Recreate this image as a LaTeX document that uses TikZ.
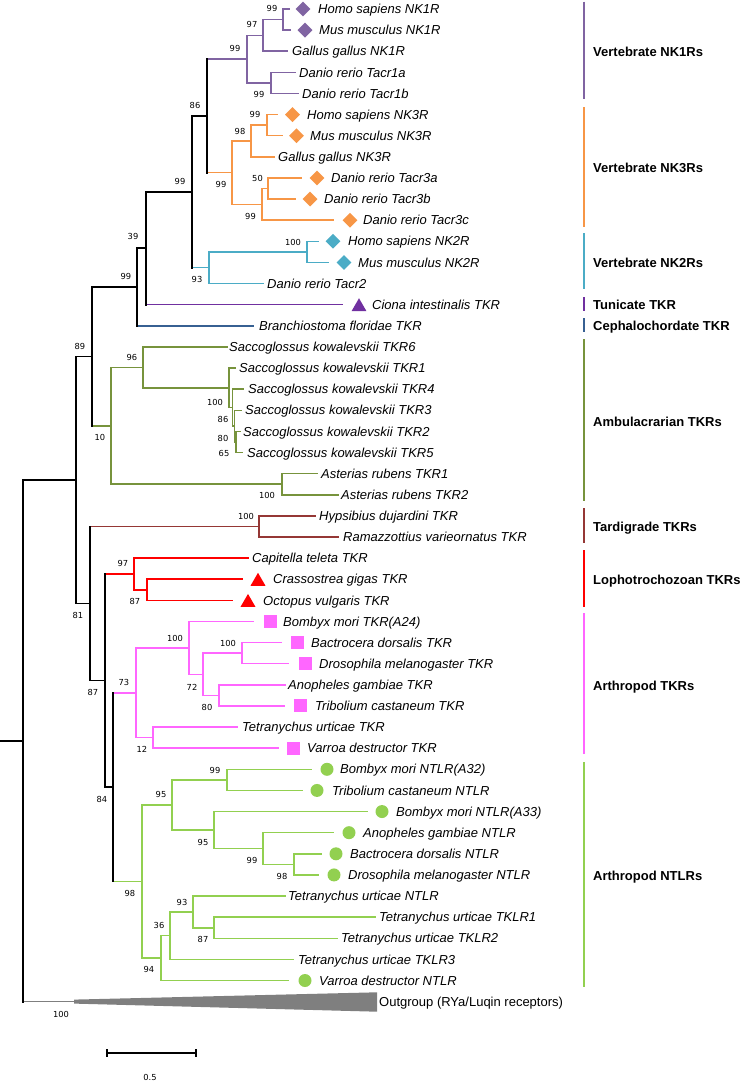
\documentclass[tikz,border=0pt]{standalone}
\usepackage{fontspec}
\setmainfont{Liberation Sans}
\newfontfamily\bsfont{DejaVu Sans}
\usetikzlibrary{shapes.geometric}
\definecolor{cNKa}{HTML}{8064A2}
\definecolor{cNKc}{HTML}{F79646}
\definecolor{cNKb}{HTML}{4BACC6}
\definecolor{cCio}{HTML}{7030A0}
\definecolor{cBra}{HTML}{376092}
\definecolor{cAmb}{HTML}{77933C}
\definecolor{cTar}{HTML}{953735}
\definecolor{cLop}{HTML}{FF0000}
\definecolor{cArt}{HTML}{FF66FF}
\definecolor{cNtl}{HTML}{92D050}
\definecolor{cOut}{HTML}{7F7F7F}
\tikzset{
  tl/.style={line width=1.5pt, line cap=rect, line join=miter},
  tlb/.style={line width=1.8pt, line cap=rect, line join=miter, black},
  sp/.style={font=\fontsize{13}{15}\selectfont\itshape, inner sep=0pt, text height=9.3pt, text depth=0pt, anchor=west},
  cl/.style={font=\fontsize{13}{15}\selectfont\bfseries, inner sep=0pt, text height=9.3pt, text depth=0pt, anchor=west},
  bs/.style={font=\bsfont\fontsize{8.3}{10}\selectfont, inner sep=0pt, text height=6pt, text depth=0pt, anchor=center},
  dia/.style={diamond, fill=#1, inner sep=0pt, minimum width=15pt, minimum height=15pt},
  cir/.style={circle, fill=#1, inner sep=0pt, minimum size=13pt},
  sqr/.style={rectangle, fill=#1, inner sep=0pt, minimum size=13pt},
  tri/.style={regular polygon, regular polygon sides=3, fill=#1, inner sep=0pt, minimum size=17.3pt, yshift=-2.2pt},
  cbar/.style={line width=1.5pt},
}
\newcommand\leaf[5]{\coordinate (#1) at (#3,{9+21.12*#2}); \node[sp] (#1-t) at (#4,{9+21.12*#2}) {#5};}
\begin{document}
\begin{tikzpicture}[x=1pt,y=-1pt]
\useasboundingbox (0,0) rectangle (742,1081);
% ---------- leaves ----------
\leaf{t0}{0}{289}{318}{Homo sapiens NK1R}
\leaf{t1}{1}{290}{319}{Mus musculus NK1R}
\leaf{t2}{2}{287}{292}{Gallus gallus NK1R}
\leaf{t3}{3}{295}{299}{Danio rerio Tacr1a}
\leaf{t4}{4}{298}{302}{Danio rerio Tacr1b}
\leaf{t5}{5}{277}{307}{Homo sapiens NK3R}
\leaf{t6}{6}{282}{310}{Mus musculus NK3R}
\leaf{t7}{7}{274}{278}{Gallus gallus NK3R}
\leaf{t8}{8}{301}{331}{Danio rerio Tacr3a}
\leaf{t9}{9}{295}{324}{Danio rerio Tacr3b}
\leaf{t10}{10}{333}{363}{Danio rerio Tacr3c}
\leaf{t11}{11}{318}{348}{Homo sapiens NK2R}
\leaf{t12}{12}{328}{358}{Mus musculus NK2R}
\leaf{t13}{13}{263}{267}{Danio rerio Tacr2}
\leaf{t14}{14}{342}{372}{Ciona intestinalis TKR}
\leaf{t15}{15}{253}{259}{Branchiostoma floridae TKR}
\leaf{t16}{16}{227}{229}{Saccoglossus kowalevskii TKR6}
\leaf{t17}{17}{235}{239}{Saccoglossus kowalevskii TKR1}
\leaf{t18}{18}{243}{248}{Saccoglossus kowalevskii TKR4}
\leaf{t19}{19}{241}{245}{Saccoglossus kowalevskii TKR3}
\leaf{t20}{20}{240}{243}{Saccoglossus kowalevskii TKR2}
\leaf{t21}{21}{242}{247}{Saccoglossus kowalevskii TKR5}
\leaf{t22}{22}{317}{321}{Asterias rubens TKR1}
\leaf{t23}{23}{338}{341}{Asterias rubens TKR2}
\leaf{t24}{24}{315}{319}{Hypsibius dujardini TKR}
\leaf{t25}{25}{338}{343}{Ramazzottius varieornatus TKR}
\leaf{t26}{26}{248}{252}{Capitella teleta TKR}
\leaf{t27}{27}{242}{273}{Crassostrea gigas TKR}
\leaf{t28}{28}{232}{263}{Octopus vulgaris TKR}
\leaf{t29}{29}{253}{283}{Bombyx mori TKR(A24)}
\leaf{t30}{30}{281}{311}{Bactrocera dorsalis TKR}
\leaf{t31}{31}{288}{319}{Drosophila melanogaster TKR}
\leaf{t32}{32}{285}{288}{Anopheles gambiae TKR}
\leaf{t33}{33}{284}{315}{Tribolium castaneum TKR}
\leaf{t34}{34}{237}{242}{Tetranychus urticae TKR}
\leaf{t35}{35}{278}{307}{Varroa destructor TKR}
\leaf{t36}{36}{311}{340}{Bombyx mori NTLR(A32)}
\leaf{t37}{37}{302}{332}{Tribolium castaneum NTLR}
\leaf{t38}{38}{367}{396}{Bombyx mori NTLR(A33)}
\leaf{t39}{39}{333}{363}{Anopheles gambiae NTLR}
\leaf{t40}{40}{321}{350}{Bactrocera dorsalis NTLR}
\leaf{t41}{41}{318}{348}{Drosophila melanogaster NTLR}
\leaf{t42}{42}{285}{288}{Tetranychus urticae NTLR}
\leaf{t43}{43}{375}{379}{Tetranychus urticae TKLR1}
\leaf{t44}{44}{337}{341}{Tetranychus urticae TKLR2}
\leaf{t45}{45}{293}{298}{Tetranychus urticae TKLR3}
\leaf{t46}{46}{288}{319}{Varroa destructor NTLR}
% ---------- markers ----------
\node[dia=cNKa] (m0) at (303,{9+21.12*0}) {};
\node[dia=cNKa] (m1) at (305,{9+21.12*1}) {};
\node[dia=cNKc] (m5) at (292.5,{9+21.12*5}) {};
\node[dia=cNKc] (m6) at (296.5,{9+21.12*6}) {};
\node[dia=cNKc] (m8) at (317,{9+21.12*8}) {};
\node[dia=cNKc] (m9) at (310,{9+21.12*9}) {};
\node[dia=cNKc] (m10) at (350,{9+21.12*10}) {};
\node[dia=cNKb] (m11) at (333,{9+21.12*11}) {};
\node[dia=cNKb] (m12) at (344,{9+21.12*12}) {};
\node[tri=cCio] (m14) at (359,{9+21.12*14}) {};
\node[tri=cLop] (m27) at (258,{9+21.12*27}) {};
\node[tri=cLop] (m28) at (248,{9+21.12*28}) {};
\node[sqr=cArt] (m29) at (270,{9+21.12*29}) {};
\node[sqr=cArt] (m30) at (297,{9+21.12*30}) {};
\node[sqr=cArt] (m31) at (305,{9+21.12*31}) {};
\node[sqr=cArt] (m33) at (300,{9+21.12*33}) {};
\node[sqr=cArt] (m35) at (293,{9+21.12*35}) {};
\node[cir=cNtl] (m36) at (327,{9+21.12*36}) {};
\node[cir=cNtl] (m37) at (317,{9+21.12*37}) {};
\node[cir=cNtl] (m38) at (382,{9+21.12*38}) {};
\node[cir=cNtl] (m39) at (349,{9+21.12*39}) {};
\node[cir=cNtl] (m40) at (336,{9+21.12*40}) {};
\node[cir=cNtl] (m41) at (334,{9+21.12*41}) {};
\node[cir=cNtl] (m46) at (305,{9+21.12*46}) {};
% ---------- internal nodes ----------
\coordinate (nA) at (283,19.55);
\coordinate (n97) at (263,35.4);
\coordinate (nT1) at (271,82.95);
\coordinate (nNK1) at (247,59.2);
\coordinate (nB) at (267,125.15);
\coordinate (n98) at (251,141.0);
\coordinate (n50) at (268,188.55);
\coordinate (nT3) at (262,204.4);
\coordinate (nNK3) at (232,172.7);
\coordinate (n86) at (207,115.95);
\coordinate (nC) at (307,251.85);
\coordinate (nNK2) at (209,267.7);
\coordinate (n99v) at (192,191.8);
\coordinate (n39) at (146,248.25);
\coordinate (n99c) at (137,287.0);
\coordinate (n65) at (236,441.95);
\coordinate (n80s) at (234.5,426.1);
\coordinate (n86s) at (232.5,407.65);
\coordinate (n100s) at (229,387.8);
\coordinate (n96) at (143,367.35);
\coordinate (nAst) at (282,484.2);
\coordinate (n10) at (111,425.8);
\coordinate (n89) at (92,356.4);
\coordinate (nTard) at (259,526.45);
\coordinate (n87L) at (147,589.8);
\coordinate (n97L) at (134,573.95);
\coordinate (nBD) at (242,653.15);
\coordinate (nAT) at (219,695.4);
\coordinate (n72) at (203,674.3);
\coordinate (n100a) at (189,647.9);
\coordinate (n12) at (153,737.65);
\coordinate (n73) at (136,692.8);
\coordinate (n99n) at (227,779.85);
\coordinate (n98n) at (294,864.35);
\coordinate (n99b) at (263,848.5);
\coordinate (n95b) at (214,830.05);
\coordinate (n95) at (172,804.95);
\coordinate (n87n) at (214,927.75);
\coordinate (n93) at (193,911.9);
\coordinate (n36) at (170,935.65);
\coordinate (n94) at (161,958.1);
\coordinate (n98a) at (142,881.5);
\coordinate (nZ) at (113,787.15);
\coordinate (nY) at (105,680.55);
\coordinate (nX) at (90,603.5);
\coordinate (n81) at (76,479.95);
\coordinate (root) at (23,740.8);
\coordinate (rs) at (0,740.8);
\coordinate (og) at (74,1001.6);
% ---------- coloured clades ----------
\draw[tl,cNKa] (nA) |- (t0) (nA) |- (t1) (n97) |- (nA) (n97) |- (t2)
  (nT1) |- (t3) (nT1) |- (t4) (nNK1) |- (n97) (nNK1) |- (nT1);
\draw[tl,cNKc] (nB) |- (t5) (nB) |- (t6) (n98) |- (nB) (n98) |- (t7)
  (n50) |- (t8) (n50) |- (t9) (nT3) |- (n50) (nT3) |- (t10)
  (nNK3) |- (n98) (nNK3) |- (nT3);
\draw[tl,cNKb] (nC) |- (t11) (nC) |- (t12) (nNK2) |- (nC) (nNK2) |- (t13);
\draw[tl,cAmb] (n65) |- (t20) (n65) |- (t21) (n80s) |- (t19) (n80s) |- (n65)
  (n86s) |- (t18) (n86s) |- (n80s) (n100s) |- (t17) (n100s) |- (n86s)
  (n96) |- (t16) (n96) |- (n100s) (nAst) |- (t22) (nAst) |- (t23)
  (n10) |- (n96) (n10) |- (nAst);
\draw[tl,cTar] (nTard) |- (t24) (nTard) |- (t25);
\draw[tl,cLop] (n87L) |- (t27) (n87L) |- (t28) (n97L) |- (t26) (n97L) |- (n87L);
\draw[tl,cArt] (nBD) |- (t30) (nBD) |- (t31) (nAT) |- (t32) (nAT) |- (t33)
  (n72) |- (nBD) (n72) |- (nAT) (n100a) |- (t29) (n100a) |- (n72)
  (n12) |- (t34) (n12) |- (t35) (n73) |- (n100a) (n73) |- (n12);
\draw[tl,cNtl] (n99n) |- (t36) (n99n) |- (t37) (n98n) |- (t40) (n98n) |- (t41)
  (n99b) |- (t39) (n99b) |- (n98n) (n95b) |- (t38) (n95b) |- (n99b)
  (n95) |- (n99n) (n95) |- (n95b) (n87n) |- (t43) (n87n) |- (t44)
  (n93) |- (t42) (n93) |- (n87n) (n36) |- (n93) (n36) |- (t45)
  (n94) |- (n36) (n94) |- (t46) (n98a) |- (n95) (n98a) |- (n94);
% ---------- stems from black nodes ----------
\draw[tl,cNKa] (n86 |- nNK1) -- (nNK1);
\draw[tl,cNKc] (n86 |- nNK3) -- (nNK3);
\draw[tl,cNKb] (n99v |- nNK2) -- (nNK2);
\draw[tl,cCio] (n39 |- t14) -- (t14);
\draw[tl,cBra] (n99c |- t15) -- (t15);
\draw[tl,cAmb] (n89 |- n10) -- (n10);
\draw[tl,cTar] (nX |- nTard) -- (nTard);
\draw[tl,cLop] (nY |- n97L) -- (n97L);
\draw[tl,cArt] (nZ |- n73) -- (n73);
\draw[tl,cNtl] (nZ |- n98a) -- (n98a);
\draw[line width=1.1pt,cOut] (root |- og) -- (og);
\fill[cOut] (74,999.6) -- (377,992.3) -- (377,1011.7) -- (74,1003.6) -- cycle;
\node[font=\fontsize{13}{15}\selectfont, inner sep=0pt, text height=9.3pt, text depth=0pt, anchor=west] (ogt) at (379,1002) {Outgroup (RYa/Luqin receptors)};
% ---------- black backbone ----------
\draw[tlb] (rs) -- (root);
\draw[tlb] (root |- n81) -- (root |- og);
\draw[tlb] (root |- n81) -- (n81);
\draw[tlb] (n81 |- n89) -- (n81 |- nX);
\draw[tlb] (n81 |- n89) -- (n89) (n81 |- nX) -- (nX);
\draw[tlb] (n89 |- n99c) -- (n89 |- n10);
\draw[tlb] (n89 |- n99c) -- (n99c);
\draw[tlb] (n99c |- n39) -- (n99c |- t15);
\draw[tlb] (n99c |- n39) -- (n39);
\draw[tlb] (n39 |- n99v) -- (n39 |- t14);
\draw[tlb] (n39 |- n99v) -- (n99v);
\draw[tlb] (n99v |- n86) -- (n99v |- nNK2);
\draw[tlb] (n99v |- n86) -- (n86);
\draw[tlb] (n86 |- nNK1) -- (n86 |- nNK3);
\draw[tlb] (nX |- nTard) -- (nX |- nY);
\draw[tlb] (nX |- nY) -- (nY);
\draw[tlb] (nY |- n97L) -- (nY |- nZ);
\draw[tlb] (nY |- nZ) -- (nZ);
\draw[tlb] (nZ |- n73) -- (nZ |- n98a);
% ---------- bootstrap values ----------
\node[bs] (b1) at (272,9) {99};
\node[bs] (b2) at (252,25) {97};
\node[bs] (b3) at (235,49) {99};
\node[bs] (b4) at (259,94) {99};
\node[bs] (b5) at (195,105) {86};
\node[bs] (b6) at (255,114) {99};
\node[bs] (b7) at (240,131) {98};
\node[bs] (b8) at (221,184) {99};
\node[bs] (b9) at (257.5,178) {50};
\node[bs] (b10) at (250.5,216) {99};
\node[bs] (b11) at (180,181) {99};
\node[bs] (b12) at (293,242) {100};
\node[bs] (b13) at (197,279) {93};
\node[bs] (b14) at (133,236) {39};
\node[bs] (b15) at (126,276) {99};
\node[bs] (b16) at (80,346) {89};
\node[bs] (b17) at (132,357) {96};
\node[bs] (b18) at (215,402) {100};
\node[bs] (b19) at (223,419) {86};
\node[bs] (b20) at (223,438) {80};
\node[bs] (b21) at (224,453) {65};
\node[bs] (b22) at (100,437) {10};
\node[bs] (b23) at (267,495) {100};
\node[bs] (b24) at (246,516) {100};
\node[bs] (b25) at (123,563) {97};
\node[bs] (b26) at (135,601) {87};
\node[bs] (b27) at (78,615) {81};
\node[bs] (b28) at (93,692) {87};
\node[bs] (b29) at (175,638) {100};
\node[bs] (b30) at (228,643) {100};
\node[bs] (b31) at (192,687) {72};
\node[bs] (b32) at (207,707) {80};
\node[bs] (b33) at (124,682) {73};
\node[bs] (b34) at (142,749) {12};
\node[bs] (b35) at (102,799) {84};
\node[bs] (b36) at (215,770) {99};
\node[bs] (b37) at (161,794) {95};
\node[bs] (b38) at (203,842) {95};
\node[bs] (b39) at (252,860) {99};
\node[bs] (b40) at (282,876) {98};
\node[bs] (b41) at (130,893) {98};
\node[bs] (b42) at (182,902) {93};
\node[bs] (b43) at (159,925) {36};
\node[bs] (b44) at (203,939) {87};
\node[bs] (b45) at (149,969) {94};
\node[bs] (b46) at (61,1014) {100};
% ---------- scale bar ----------
\coordinate (sa) at (107,1053);
\coordinate (sb) at (196,1053);
\draw[line width=1.4pt] (sa) -- (sb);
\draw[line width=1.4pt] ([yshift=4pt]sa) -- ([yshift=-4pt]sa) ([yshift=4pt]sb) -- ([yshift=-4pt]sb);
\node[bs] (sc) at (150,1077) {0.5};
% ---------- clade bars ----------
\draw[cbar,cNKa] (584,1.7) -- (584,99);
\node[cl] (L1) at (593,52) {Vertebrate NK1Rs};
\draw[cbar,cNKc] (584,107) -- (584,227);
\node[cl] (L2) at (593,168) {Vertebrate NK3Rs};
\draw[cbar,cNKb] (584,233) -- (584,289);
\node[cl] (L3) at (593,263) {Vertebrate NK2Rs};
\draw[cbar,cCio] (584,297) -- (584,311);
\node[cl] (L4) at (593,305) {Tunicate TKR};
\draw[cbar,cBra] (584,318) -- (584,332);
\node[cl] (L5) at (593,326) {Cephalochordate TKR};
\draw[cbar,cAmb] (584,339) -- (584,501);
\node[cl] (L6) at (593,421.7) {Ambulacrarian TKRs};
\draw[cbar,cTar] (584,508) -- (584,543);
\node[cl] (L7) at (593,527) {Tardigrade TKRs};
\draw[cbar,cLop] (584,550) -- (584,607);
\node[cl] (L8) at (593,580) {Lophotrochozoan TKRs};
\draw[cbar,cArt] (584,613) -- (584,754);
\node[cl] (L9) at (593,686) {Arthropod TKRs};
\draw[cbar,cNtl] (584,762) -- (584,987);
\node[cl] (L10) at (593,876) {Arthropod NTLRs};
\end{tikzpicture}
\end{document}
